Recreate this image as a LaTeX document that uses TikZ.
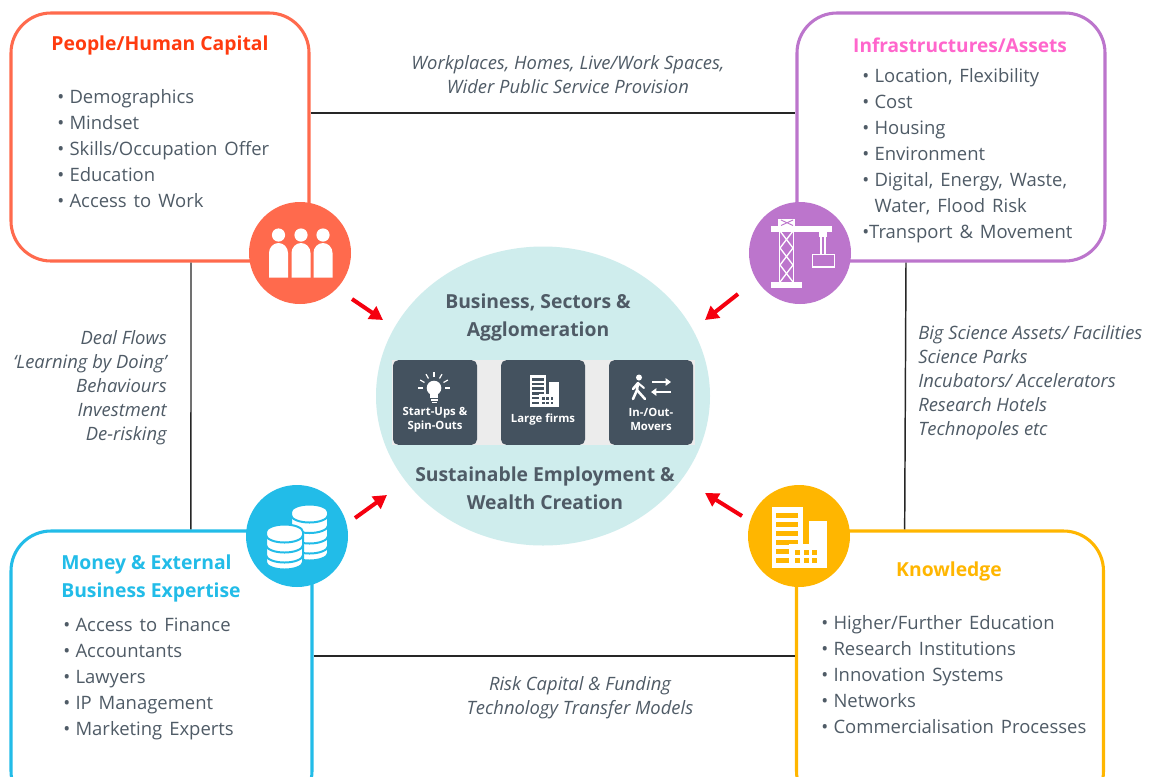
\documentclass[tikz,border=0pt]{standalone}
\usepackage{fontspec}
\setmainfont{Open Sans}
\newfontfamily\listfont[WordSpace=1.45]{Open Sans}
\usetikzlibrary{arrows.meta,calc,shapes.geometric}
\definecolor{cpeople}{HTML}{FF6A4D}
\definecolor{tpeople}{HTML}{FF3B0F}
\definecolor{cinfra}{HTML}{BC75CC}
\definecolor{tinfra}{HTML}{FF66CC}
\definecolor{cmoney}{HTML}{22BCE8}
\definecolor{cknow}{HTML}{FFB600}
\definecolor{ctext}{HTML}{4F5B66}
\definecolor{ctile}{HTML}{44525F}
\definecolor{cband}{HTML}{ECECEC}
\definecolor{chub}{HTML}{CFEDED}
\definecolor{cred}{HTML}{F5000F}
\newcommand{\bl}[1]{\makebox[9.2pt][l]{•}#1}
\newcommand{\buildingicon}[4]{%
\begin{scope}[shift={(#1,#2)},scale=#3]
 \fill[white] (0,0) rectangle (31,61);
 \fill[white] (37,14) rectangle (55,61);
 \foreach \yy in {6,15,24,33}{\fill[#4] (4,\yy) rectangle (26,\yy+5);}
 \foreach \yy in {42,51}{\fill[#4] (4,\yy) rectangle (17,\yy+5);}
 \fill[white] (17,37) rectangle (55,61);
 \foreach \xx in {23,31.5,40}{\foreach \yy in {43,51}{\fill[#4] (\xx,\yy) rectangle (\xx+5,\yy+4.5);}}
\end{scope}}
\newcommand{\coinstack}[5]{% cx, top, rx, height, separator list
\begin{scope}[shift={(#1,#2)}]
 \path[fill=white,draw=cmoney,line width=1.5pt] (-#3,0) -- (-#3,#4) arc[start angle=180,end angle=0,x radius=#3,y radius=7.5] -- (#3,0) arc[start angle=0,end angle=-180,x radius=#3,y radius=7.5] -- cycle;
 \foreach \ss in {#5}{\draw[cmoney,line width=1.5pt] (-#3,\ss) arc[start angle=180,end angle=0,x radius=#3,y radius=7.5];}
\end{scope}}
\tikzset{
 box/.style={draw,rounded corners=30pt,line width=2.3pt,fill=white,inner sep=0pt},
 badge/.style={circle,minimum size=76.5pt,inner sep=0pt},
 title/.style={font=\fontsize{14.5}{21}\selectfont\bfseries,align=center,inner sep=0pt},
 listing/.style={font=\listfont\fontsize{13.85}{19.5}\selectfont,text=ctext,align=left,anchor=north west,inner sep=0pt},
 linkline/.style={draw=black!85,line width=1.1pt},
 linklabel/.style={font=\fontsize{13.8}{18}\selectfont\itshape,text=ctext,inner sep=0pt},
 hubtext/.style={font=\fontsize{14.5}{21}\selectfont\bfseries,text=ctext,align=center,inner sep=0pt},
 tile/.style={fill=ctile,rounded corners=4pt,minimum width=63pt,minimum height=63.5pt,inner sep=0pt},
 tiletext/.style={font=\fontsize{8.5}{10.5}\selectfont\bfseries,text=white,align=center,inner sep=0pt},
 flow/.style={draw=cred,line width=3pt,-{Triangle[length=10pt,width=11pt]}},
}
\begin{document}
\begin{tikzpicture}[x=0.75pt,y=-0.75pt]
\clip (0,0) rectangle (1157,776);
\fill[white] (0,0) rectangle (1157,776);

% boxes
\node[box,draw=cpeople,minimum width=223.5pt,minimum height=186pt] (people) at (160,137) {};
\node[box,draw=cinfra,minimum width=231pt,minimum height=186pt] (infra) at (951,137) {};
\node[box,draw=cmoney,minimum width=225.75pt,minimum height=210pt] (money) at (161.5,671) {};
\node[box,draw=cknow,minimum width=230.25pt,minimum height=210pt] (know) at (950,671) {};

% links
\draw[linkline] ([yshift=18pt]people.east) -- ([yshift=18pt]infra.west);
\draw[linkline] ([xshift=23.25pt]people.south) -- ([xshift=22.1pt]money.north);
\draw[linkline] ([xshift=-33.75pt]infra.south) -- ([xshift=-34pt]know.north);
\draw[linkline] ([yshift=11.25pt]money.east) -- ([yshift=11.25pt]know.west);

% hub
\node[ellipse,fill=chub,minimum width=250.5pt,minimum height=224.25pt,inner sep=0pt] (hub) at (543,396) {};
\node[fill=cband,minimum width=227.25pt,minimum height=64pt,inner sep=0pt] (band) at (543.5,402.5) {};
\node[tile] (t1) at (435,402.5) {};
\node[tile] (t2) at (543,402.5) {};
\node[tile] (t3) at (651,402.5) {};
\node[hubtext] (h1) at (538,317) {Business, Sectors \&\\Agglomeration};
\node[hubtext] (h2) at (545,488) {Sustainable Employment \&\\Wealth Creation};
\node[tiletext] (s1) at (435,419.5) {Start-Ups \&\\Spin-Outs};
\node[tiletext] (s2) at (543,420) {Large firms};
\node[tiletext] (s3) at (651,419.5) {In-/Out-\\Movers};

% bulb
\begin{scope}[shift={(434,388)}]
 \fill[white] (0,0) circle (7.3);
 \fill[white] (-4,4) rectangle (4,10);
 \fill[white] (-3.5,11) rectangle (3.5,12.5);
 \fill[white] (-2.5,13.5) rectangle (2.5,15);
 \foreach \a in {0,30,60,90,120,150,180}{\draw[white,line width=0.9pt] (-\a:11) -- (-\a:16);}
\end{scope}
\buildingicon{530}{375}{0.52}{ctile}
% walker
\fill[white] (639,377.5) circle (3);
\draw[white,line width=1.9pt,line cap=round,line join=round] (633,399) -- (637,390) -- (638,383) -- (633,389);
\draw[white,line width=1.9pt,line cap=round,line join=round] (637,390) -- (645,399);
\draw[white,line width=1.5pt,line cap=round,line join=round] (638,383) -- (644,388);
\draw[white,line width=1.9pt,-{Triangle[length=4pt,width=5.5pt]}] (652,382) -- (671,382);
\draw[white,line width=1.9pt,-{Triangle[length=4pt,width=5.5pt]}] (671,392) -- (651,392);

% badges
\node[badge,fill=cpeople] (bpeople) at (300,253) {};
\node[badge,fill=cinfra] (binfra) at (800,253) {};
\node[badge,fill=cmoney] (bmoney) at (297,536) {};
\node[badge,fill=cknow] (bknow) at (799,536) {};

% people icon
\foreach \cx in {278.5,301,323}{
 \fill[white] (\cx,235) circle (6.6);
 \fill[white] (\cx-9.5,277.5) -- (\cx-9.5,253) arc[start angle=180,end angle=360,x radius=9.5,y radius=10] -- (\cx+9.5,277.5) -- cycle;
}

% crane icon
\begin{scope}
 \fill[white] (771,282) rectangle (802,287.5);
 \fill[white] (771,226) rectangle (832,231.5);
 \fill[white] (778,219) rectangle (795,226);
 \draw[white,line width=1.2pt] (779.5,226) -- (779.5,282) (793.5,226) -- (793.5,282);
 \draw[white,line width=1pt] (780,231) -- (793,248) -- (780,265) -- (793,282);
 \draw[white,line width=1pt] (793,231) -- (780,248) -- (793,265) -- (780,282);
 \draw[cinfra,line width=0.7pt] (781,220) -- (793,225.5) (793,220) -- (781,225.5);
 \fill[white] (819,231) rectangle (827,237);
 \draw[white,line width=1pt] (821,237) -- (821,254) (825,237) -- (825,254);
 \draw[white,line width=1.3pt] (812.5,254.5) rectangle (834.5,267);
\end{scope}

% coins icon
\coinstack{309.5}{512}{18.5}{41}{3,13.5,24,34}
\coinstack{284.5}{532}{18.5}{30}{3,13,23}

% knowledge icon
\buildingicon{772}{507}{1}{cknow}

% flows
\coordinate (f1) at (352,299);
\coordinate (f2) at (738,294);
\coordinate (f3) at (355,518);
\coordinate (f4) at (742,516);
\coordinate (g1) at (383,320);
\coordinate (g2) at (705,320);
\coordinate (g3) at (387,495);
\coordinate (g4) at (705,493);
\draw[flow] (f1) -- (g1);
\draw[flow] (f2) -- (g2);
\draw[flow] (f3) -- (g3);
\draw[flow] (f4) -- (g4);

% titles
\node[title,text=tpeople] (tp) at (160,45.5) {People/Human Capital};
\node[title,text=tinfra,font=\fontsize{14.3}{21}\selectfont\bfseries] (ti) at (960,45) {Infrastructures/Assets};
\node[title,text=cmoney,align=left,anchor=west] (tm) at (61,578) {Money \& External\\Business Expertise};
\node[title,text=cknow] (tk) at (949,571.5) {Knowledge};

% lists
\node[listing] (lp) at (57,89.5) {\bl{Demographics}\\\bl{Mindset}\\\bl{Skills/Occupation Offer}\\\bl{Education}\\\bl{Access to Work}};
\node[listing] (li) at (862,68.5) {\bl{Location, Flexibility}\\\bl{Cost}\\\bl{Housing}\\\bl{Environment}\\\bl{Digital, Energy, Waste,}\\\hspace*{9.2pt}Water, Flood Risk\\\makebox[5.2pt][l]{•}Transport \& Movement};
\node[listing] (lm) at (63,617.5) {\bl{Access to Finance}\\\bl{Accountants}\\\bl{Lawyers}\\\bl{IP Management}\\\bl{Marketing Experts}};
\node[listing] (lk) at (821,615.5) {\bl{Higher/Further Education}\\\bl{Research Institutions}\\\bl{Innovation Systems}\\\bl{Networks}\\\bl{Commercialisation Processes}};

% link labels
\node[linklabel,align=center] (l1) at (568,75) {Workplaces, Homes, Live/Work Spaces,\\Wider Public Service Provision};
\node[linklabel,align=center] (l4) at (580,697.5) {Risk Capital \& Funding\\Technology Transfer Models};
\node[linklabel,align=right,anchor=east] (l2) at (167,387.5) {Deal Flows\\‘Learning by Doing’\\Behaviours\\Investment\\De-risking};
\node[linklabel,align=left,anchor=west] (l3) at (918,382.5) {Big Science Assets/ Facilities\\Science Parks\\Incubators/ Accelerators\\Research Hotels\\Technopoles etc};
\end{tikzpicture}
\end{document}
